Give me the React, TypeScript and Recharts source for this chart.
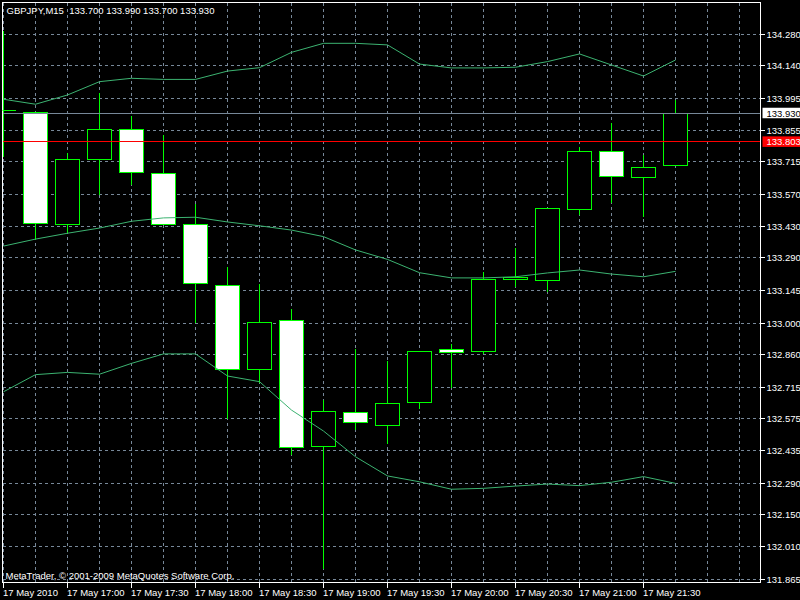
import React from "react";
import {
  ComposedChart,
  Bar,
  Line,
  XAxis,
  YAxis,
  CartesianGrid,
  ReferenceLine,
  ReferenceArea,
} from "recharts";

// GBPJPY M15, 17 May 2010
const symbol = "GBPJPY,M15";
const dayLabel = "17 May";
const dateLabel = "17 May 2010";
const copyright = "MetaTrader, \u00a9 2001-2009 MetaQuotes Software Corp.";

const times = [
  "16:30", "16:45", "17:00", "17:15", "17:30", "17:45", "18:00", "18:15",
  "18:30", "18:45", "19:00", "19:15", "19:30", "19:45", "20:00", "20:15",
  "20:30", "20:45", "21:00", "21:15", "21:30", "21:45",
];
const opens = [
  133.94, 133.934, 133.438, 133.726, 133.859, 133.664, 133.438, 133.167,
  132.795, 133.01, 132.452, 132.604, 132.545, 132.648, 132.883, 132.873,
  133.195, 133.189, 133.504, 133.761, 133.644, 133.7,
];
const highs = [
  134.295, 133.934, 133.757, 134.021, 133.922, 133.834, 133.528, 133.25,
  133.173, 133.065, 132.663, 132.888, 132.832, 132.875, 132.91, 133.227,
  133.336, 133.509, 133.782, 133.891, 133.749, 133.99,
];
const lows = [
  133.74, 133.372, 133.4, 133.568, 133.615, 133.438, 133.001, 132.577,
  132.737, 132.415, 131.912, 132.526, 132.467, 132.622, 132.715, 132.866,
  133.161, 133.139, 133.483, 133.535, 133.471, 133.7,
];
const closes = [
  133.94, 133.442, 133.726, 133.86, 133.668, 133.438, 133.176, 132.795,
  133.003, 132.449, 132.609, 132.56, 132.644, 132.875, 132.87, 133.194,
  133.2, 133.509, 133.761, 133.65, 133.69, 133.93,
];

// Bollinger bands
const upperBand = [
  133.992, 133.97, 134.011, 134.07, 134.085, 134.08, 134.08, 134.117,
  134.132, 134.2, 134.24, 134.24, 134.233, 134.148, 134.131, 134.131,
  134.134, 134.159, 134.193, 134.144, 134.095, 134.166,
];
const middleBand = [
  133.341, 133.372, 133.398, 133.421, 133.451, 133.466, 133.469, 133.448,
  133.431, 133.412, 133.383, 133.324, 133.282, 133.223, 133.2, 133.2,
  133.205, 133.222, 133.235, 133.217, 133.205, 133.229,
];
const lowerBand = [
  132.695, 132.771, 132.781, 132.773, 132.821, 132.863, 132.863, 132.765,
  132.74, 132.614, 132.521, 132.407, 132.322, 132.296, 132.263, 132.267,
  132.277, 132.286, 132.279, 132.294, 132.319, 132.289,
];

const priceTicks = [
  134.28, 134.14, 133.995, 133.855, 133.715, 133.57, 133.43, 133.29, 133.145,
  133.0, 132.86, 132.715, 132.575, 132.435, 132.29, 132.15, 132.01, 131.865,
];
const bidPrice = 133.93;
const askPrice = 133.803;

const rows = times.map((t, n) => ({
  i: n - 1,
  time: t,
  open: opens[n],
  high: highs[n],
  low: lows[n],
  close: closes[n],
  upper: upperBand[n],
  middle: middleBand[n],
  lower: lowerBand[n],
}));

const xDomain = [-1.03125, 22.656];
const yDomain = [131.8495, 134.421];
const xTicks = Array.from({ length: 24 }, (_, k) => k - 1);

const FONT = "'Liberation Sans', Arial, sans-serif";
const FS = 9.5;
const GREEN = "#00ff00";
const BAND = "#3cb371";
const GRID = "#778899";

const snap = (v: number) => Math.round(v - 0.5) + 0.5;

const Candle = (props: any) => {
  const { x, y, width, height, payload } = props;
  if (!payload) return null;
  const { open, high, low, close } = payload;
  const top = Math.min(y, y + height);
  const bot = Math.max(y, y + height);
  const k = (bot - top) / (high - low);
  const yOf = (v: number) => top + (high - v) * k;
  const cx = snap(x + width / 2);
  const bTop = snap(yOf(Math.max(open, close)));
  const bBot = snap(yOf(Math.min(open, close)));
  const bear = close < open;
  const half = 12;
  return (
    <g shapeRendering="crispEdges">
      <line x1={cx} x2={cx} y1={snap(top)} y2={snap(bot)} stroke={GREEN} />
      {bBot - bTop < 1 ? (
        <line x1={cx - half} x2={cx + half} y1={bTop} y2={bTop} stroke={GREEN} />
      ) : (
        <rect
          x={cx - half}
          y={bTop}
          width={half * 2}
          height={bBot - bTop}
          fill={bear ? "#ffffff" : "#000000"}
          stroke={GREEN}
        />
      )}
    </g>
  );
};

const XTick = (props: any) => {
  const { x, y, payload } = props;
  const row = rows.find((r) => r.i === payload.value);
  if (!row) return null;
  const mm = row.time.slice(3);
  if (mm !== "00" && mm !== "30") return null;
  const text = row.i === rows[0].i ? dateLabel : `${dayLabel} ${row.time}`;
  const px = snap(x);
  return (
    <g>
      <line x1={px} x2={px} y1={y} y2={y + 5} stroke="#fff" shapeRendering="crispEdges" />
      <text x={px - 0.5} y={y + 13.5} fill="#fff" fontSize={FS} fontFamily={FONT} textAnchor="start">
        {text}
      </text>
    </g>
  );
};

const YTick = (props: any) => {
  const { x, y, payload } = props;
  return (
    <g>
      <line x1={x} x2={x + 4} y1={snap(y)} y2={snap(y)} stroke="#fff" shapeRendering="crispEdges" />
      <text x={x + 6} y={y + 3.5} fill="#fff" fontSize={FS} fontFamily={FONT}>
        {Number(payload.value).toFixed(3)}
      </text>
    </g>
  );
};

const PriceTag = (props: any) => {
  const { viewBox, value, bg, fg } = props;
  if (!viewBox) return null;
  const x = viewBox.x + viewBox.width + 2;
  const y = viewBox.y;
  return (
    <g>
      <rect x={x} y={y - 5.5} width={40} height={10.5} fill={bg} />
      <text x={x + 4} y={y + 3.5} fill={fg} fontSize={FS} fontFamily={FONT}>
        {value.toFixed(3)}
      </text>
    </g>
  );
};

export default function App() {
  const last = rows[rows.length - 1];
  const header = `${symbol}  ${[last.open, last.high, last.low, last.close]
    .map((v) => v.toFixed(3))
    .join(" ")}`;
  return (
    <div style={{ position: "absolute", left: 0, top: 0, width: 800, height: 600, background: "#000" }}>
      <ComposedChart
        width={800}
        height={600}
        data={rows}
        margin={{ top: 2.5, right: 0, bottom: 0, left: 2.5 }}
      >
        <CartesianGrid
          stroke={GRID}
          strokeDasharray="3 3"
          shapeRendering="crispEdges"
        />
        <XAxis
          dataKey="i"
          type="number"
          domain={xDomain}
          allowDataOverflow
          ticks={xTicks}
          interval={0}
          tick={<XTick />}
          tickLine={false}
          tickSize={0}
          tickMargin={0}
          axisLine={{ stroke: "#fff" }}
          height={17.5}
        />
        <YAxis
          orientation="right"
          type="number"
          domain={yDomain}
          allowDataOverflow
          ticks={priceTicks}
          interval={0}
          tick={<YTick />}
          tickLine={false}
          tickSize={0}
          tickMargin={0}
          axisLine={{ stroke: "#fff" }}
          width={39.5}
        />
        <Line dataKey="upper" stroke={BAND} dot={false} activeDot={false} isAnimationActive={false} />
        <Line dataKey="middle" stroke={BAND} dot={false} activeDot={false} isAnimationActive={false} />
        <Line dataKey="lower" stroke={BAND} dot={false} activeDot={false} isAnimationActive={false} />
        <Bar
          dataKey={(d: any) => [d.low, d.high]}
          barSize={24}
          shape={<Candle />}
          isAnimationActive={false}
        />
        <ReferenceLine
          y={bidPrice}
          stroke={GRID}
          shapeRendering="crispEdges"
          label={<PriceTag value={bidPrice} bg="#ffffff" fg="#000000" />}
        />
        <ReferenceLine
          y={askPrice}
          stroke="#ff0000"
          shapeRendering="crispEdges"
          label={<PriceTag value={askPrice} bg="#ff0000" fg="#ffffff" />}
        />
        <ReferenceArea
          x1={xDomain[0]}
          x2={xDomain[1]}
          y1={yDomain[0]}
          y2={yDomain[1]}
          fill="none"
          stroke="#fff"
          shapeRendering="crispEdges"
        />
      </ComposedChart>
      <svg
        width={800}
        height={600}
        style={{ position: "absolute", left: 0, top: 0, pointerEvents: "none" }}
      >
        <text x={6.5} y={14} fill="#fff" fontSize={FS} fontFamily={FONT} style={{ whiteSpace: "pre" }}>
          {header}
        </text>
        <text x={5.5} y={579} fill="#fff" fontSize={FS} fontFamily={FONT}>
          {copyright}
        </text>
      </svg>
    </div>
  );
}
